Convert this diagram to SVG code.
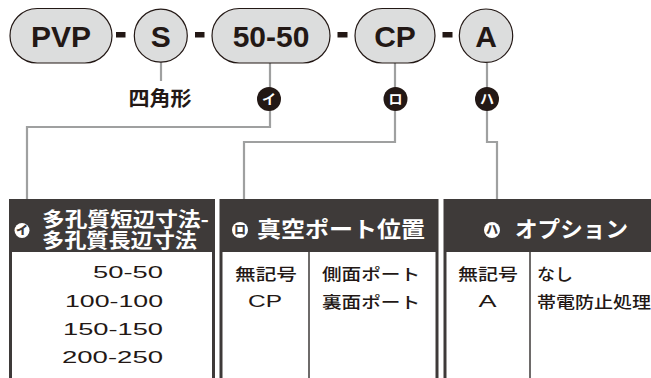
<svg xmlns="http://www.w3.org/2000/svg" width="651" height="378" viewBox="0 0 651 378">
<style>
.pill{fill:#dcdddd;stroke:#231815;stroke-width:1.2}
.dash{fill:#231815}
.big{font-family:"Liberation Sans","Noto Sans CJK JP",sans-serif;font-weight:700;font-size:30px;fill:#231815;text-anchor:middle}
.line{fill:none;stroke:#9fa0a0;stroke-width:2.2}
.badge{fill:#231815}
.bglyph{font-family:"Noto Sans CJK JP",sans-serif;font-weight:700;font-size:14px;fill:#fff;text-anchor:middle}
.hglyph{font-family:"Noto Sans CJK JP",sans-serif;font-weight:900;font-size:12px;fill:#3e3a39;text-anchor:middle}
.frame{fill:#3e3a39}
.body{fill:#fff}
.div{stroke:#3e3a39;stroke-width:1.5}
.head{font-family:"Noto Sans CJK JP",sans-serif;font-weight:700;font-size:22px;fill:#fff}
.head2{font-family:"Noto Sans CJK JP",sans-serif;font-weight:700;font-size:20px;fill:#fff}
.num{font-family:"Liberation Sans","Noto Sans CJK JP",sans-serif;font-size:17px;fill:#231815}
.jp{font-family:"Noto Sans CJK JP",sans-serif;font-weight:500;font-size:16px;fill:#231815}
.lbl{font-family:"Noto Sans CJK JP",sans-serif;font-weight:700;font-size:20px;fill:#231815;text-anchor:middle}
</style>
<g id="connectors">
<path class="line" d="M161 62 V81"/>
<path class="line" d="M270 63 V127 H27 V199"/>
<path class="line" d="M395 63 V142 H244 V199"/>
<path class="line" d="M487 63 V142 H497 V199"/>
</g>
<g id="pvp"><rect class="pill" x="10" y="8.5" width="102" height="54.5" rx="27.2"/><text class="big" x="61" y="47">PVP</text></g>
<g id="dash1"><rect class="dash" x="116" y="32" width="9.5" height="5.5"/></g>
<g id="s"><circle class="pill" cx="160.8" cy="35.7" r="26.5"/><text class="big" x="160.8" y="47">S</text></g>
<g id="dash2"><rect class="dash" x="195" y="32" width="9.5" height="5.5"/></g>
<g id="size"><rect class="pill" x="212" y="8.5" width="118" height="54.5" rx="27.2"/><text class="big" x="271" y="47">50-50</text></g>
<g id="dash3"><rect class="dash" x="337.5" y="32" width="10" height="5.5"/></g>
<g id="cp"><rect class="pill" x="355" y="8.5" width="80" height="54.5" rx="27.2"/><text class="big" x="395" y="47">CP</text></g>
<g id="dash4"><rect class="dash" x="442.5" y="32" width="10" height="5.5"/></g>
<g id="a"><circle class="pill" cx="486" cy="35.7" r="26.7"/><text class="big" x="486" y="47">A</text></g>
<g id="shape-label"><text class="lbl" x="160" y="105.5" textLength="63" lengthAdjust="spacingAndGlyphs">四角形</text></g>
<g id="badge-i"><circle class="badge" cx="269" cy="99" r="12"/><text class="bglyph" x="269" y="104">イ</text></g>
<g id="badge-ro"><circle class="badge" cx="395.5" cy="99" r="12"/><text class="bglyph" x="395.5" y="104">ロ</text></g>
<g id="badge-ha"><circle class="badge" cx="487" cy="99" r="12"/><text class="bglyph" x="487" y="104">ハ</text></g>
<g id="table-size">
<rect class="frame" x="9" y="199" width="206" height="185"/>
<rect class="body" x="12" y="252" width="200" height="130"/>
<circle cx="22" cy="230.5" r="7.5" fill="#fff"/><text class="hglyph" x="22" y="234.7">イ</text>
<text class="head2"><tspan x="42" y="226.5" textLength="167" lengthAdjust="spacingAndGlyphs">多孔質短辺寸法-</tspan><tspan x="42" y="248" textLength="155" lengthAdjust="spacingAndGlyphs">多孔質長辺寸法</tspan></text>
<text class="num" x="93" y="278" textLength="70" lengthAdjust="spacingAndGlyphs">50-50</text>
<text class="num" x="65" y="306.5" textLength="98" lengthAdjust="spacingAndGlyphs">100-100</text>
<text class="num" x="63" y="335" textLength="100" lengthAdjust="spacingAndGlyphs">150-150</text>
<text class="num" x="62" y="363.3" textLength="101" lengthAdjust="spacingAndGlyphs">200-250</text>
</g>
<g id="table-port">
<rect class="frame" x="219.5" y="199" width="219" height="185"/>
<rect class="body" x="222.5" y="252" width="213" height="130"/>
<line class="div" x1="309" y1="252" x2="309" y2="380"/>
<circle cx="240" cy="230" r="8" fill="#fff"/><text class="hglyph" x="240" y="234.2">ロ</text>
<text class="head" x="257" y="237" textLength="168" lengthAdjust="spacingAndGlyphs">真空ポート位置</text>
<text class="jp" x="235" y="279.5" textLength="62" lengthAdjust="spacingAndGlyphs">無記号</text>
<text class="num" x="248" y="306.5" textLength="34" lengthAdjust="spacingAndGlyphs">CP</text>
<text class="jp" x="322" y="279.5" textLength="98" lengthAdjust="spacingAndGlyphs">側面ポート</text>
<text class="jp" x="322" y="308" textLength="98" lengthAdjust="spacingAndGlyphs">裏面ポート</text>
</g>
<g id="table-option">
<rect class="frame" x="443.5" y="199" width="220" height="185"/>
<rect class="body" x="446.5" y="252" width="214" height="130"/>
<line class="div" x1="530" y1="252" x2="530" y2="380"/>
<circle cx="492" cy="230" r="8" fill="#fff"/><text class="hglyph" x="492" y="234.2">ハ</text>
<text class="head" x="515" y="237" textLength="113" lengthAdjust="spacingAndGlyphs">オプション</text>
<text class="jp" x="458" y="279.5" textLength="60" lengthAdjust="spacingAndGlyphs">無記号</text>
<text class="num" x="478.5" y="306.5" textLength="18" lengthAdjust="spacingAndGlyphs">A</text>
<text class="jp" x="537" y="279.5" textLength="36" lengthAdjust="spacingAndGlyphs">なし</text>
<text class="jp" x="537" y="308" textLength="114" lengthAdjust="spacingAndGlyphs">帯電防止処理</text>
</g>
</svg>
